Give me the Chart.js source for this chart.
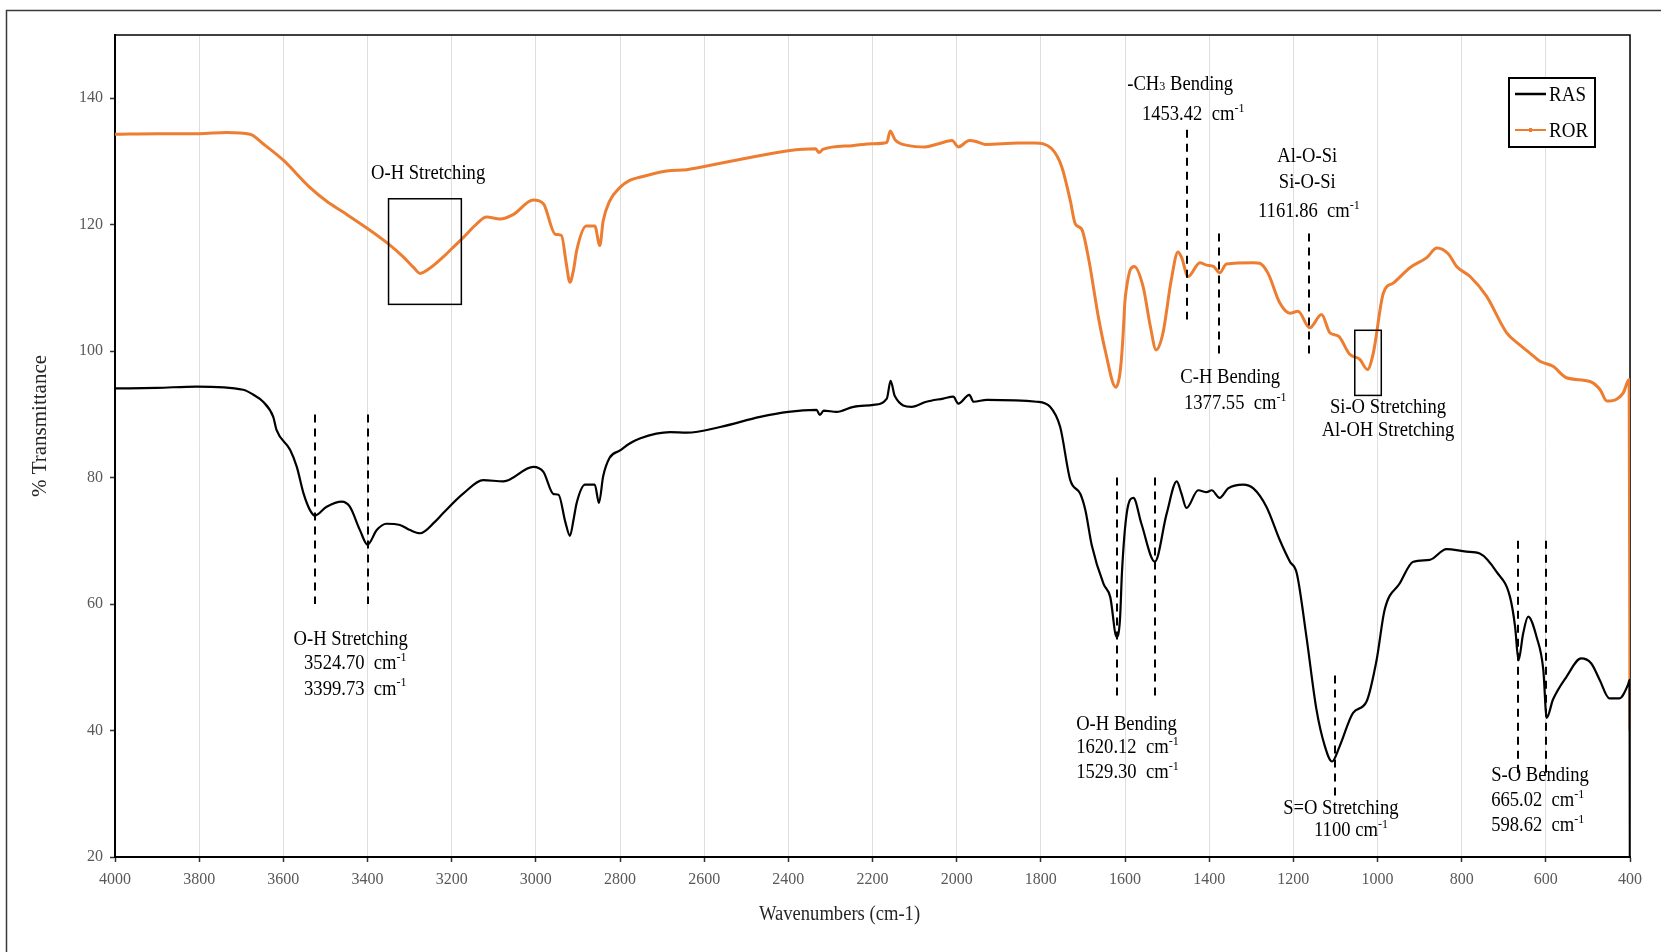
<!DOCTYPE html>
<html>
<head>
<meta charset="utf-8">
<script src="https://cdn.jsdelivr.net/npm/chart.js@4.4.0/dist/chart.umd.min.js"></script>
<style>
  html, body { margin: 0; padding: 0; background: #fff; overflow: hidden; }
  #wrap { width: 1661px; height: 952px; position: relative; }
</style>
</head>
<body>
<div id="wrap"><canvas id="ftir"></canvas></div>
<script>
// FTIR spectra: wavenumber (cm-1) and % transmittance
const rasWave = [4000, 3900, 3806, 3695, 3671, 3648, 3624, 3616, 3584, 3568, 3552, 3537, 3525, 3497, 3461, 3442, 3418, 3400, 3378, 3355, 3323, 3299, 3275, 3240, 3220, 3172, 3125, 3077, 3006, 2982, 2958, 2946, 2930, 2919, 2910, 2903, 2883, 2860, 2850, 2840, 2825, 2800, 2777, 2753, 2681, 2641, 2562, 2467, 2400, 2333, 2325, 2316, 2285, 2245, 2198, 2166, 2157, 2147, 2107, 2072, 2032, 2008, 1996, 1970, 1960, 1928, 1810, 1778, 1754, 1730, 1706, 1694, 1679, 1651, 1635, 1620, 1612, 1607, 1596, 1580, 1561, 1529, 1501, 1477, 1466, 1454, 1426, 1406, 1394, 1375, 1355, 1319, 1295, 1264, 1232, 1208, 1192, 1169, 1145, 1125, 1108, 1090, 1058, 1026, 1002, 983, 947, 915, 876, 836, 789, 757, 717, 685, 673, 665, 654, 642, 622, 606, 598, 583, 551, 516, 492, 472, 449, 425, 405, 401, 400];
const rasT = [94.1, 94.2, 94.4, 93.9, 93.1, 92.0, 89.6, 87.5, 84.4, 81.7, 77.5, 74.9, 74.0, 75.4, 76.2, 75.4, 71.7, 69.4, 71.7, 72.7, 72.5, 71.7, 71.2, 73.0, 74.4, 77.5, 79.6, 79.4, 81.7, 80.9, 77.4, 77.3, 73.0, 70.8, 73.5, 76.0, 78.9, 78.9, 76.0, 80.2, 83.1, 84.3, 85.4, 86.2, 87.2, 87.1, 88.0, 89.6, 90.4, 90.7, 89.9, 90.6, 90.4, 91.2, 91.5, 92.5, 95.3, 92.9, 91.2, 92.0, 92.5, 92.8, 91.7, 93.1, 92.0, 92.3, 92.0, 91.2, 88.0, 79.6, 77.4, 74.8, 69.3, 63.2, 61.1, 54.8, 57.5, 65.3, 74.3, 76.8, 72.7, 66.7, 74.3, 79.4, 77.5, 75.2, 78.0, 77.7, 78.0, 76.8, 78.3, 78.9, 78.3, 75.4, 70.1, 66.7, 64.9, 54.9, 43.3, 37.5, 35.1, 37.5, 42.8, 44.6, 51.2, 59.1, 63.3, 66.7, 67.0, 68.7, 68.3, 68.0, 65.1, 61.1, 56.4, 51.1, 55.3, 58.0, 54.8, 49.6, 42.0, 44.9, 48.5, 51.4, 50.6, 48.0, 45.1, 45.1, 47.2, 48.0, 0];

const rorWave = [4000, 3900, 3800, 3735, 3679, 3648, 3600, 3537, 3497, 3458, 3400, 3351, 3315, 3290, 3275, 3252, 3220, 3200, 3172, 3141, 3117, 3085, 3054, 3006, 2982, 2954, 2939, 2928, 2919, 2910, 2903, 2880, 2860, 2848, 2840, 2825, 2800, 2777, 2753, 2689, 2641, 2600, 2485, 2400, 2335, 2327, 2318, 2248, 2200, 2166, 2158, 2146, 2114, 2075, 2043, 2011, 1996, 1970, 1956, 1932, 1853, 1814, 1774, 1750, 1730, 1718, 1703, 1687, 1663, 1647, 1622, 1612, 1606, 1600, 1596, 1588, 1578, 1557, 1540, 1526, 1510, 1490, 1474, 1466, 1450, 1422, 1406, 1390, 1375, 1359, 1295, 1280, 1260, 1232, 1208, 1189, 1161, 1133, 1113, 1093, 1066, 1042, 1024, 1010, 986, 962, 923, 883, 859, 832, 812, 780, 741, 693, 662, 638, 614, 583, 551, 495, 471, 455, 432, 416, 402, 400];
const rorT = [134.3, 134.4, 134.4, 134.6, 134.3, 132.8, 130.2, 125.9, 123.7, 122.0, 119.4, 117.0, 114.9, 113.2, 112.3, 113.1, 114.9, 116.2, 118.0, 120.1, 121.2, 120.9, 121.6, 123.9, 123.3, 118.5, 118.3, 114.0, 110.9, 113.0, 115.9, 119.8, 119.8, 116.7, 120.6, 123.7, 125.9, 127.0, 127.5, 128.5, 128.7, 129.2, 130.7, 131.7, 132.0, 131.4, 131.9, 132.5, 132.8, 133.0, 134.8, 133.4, 132.5, 132.3, 132.8, 133.3, 132.3, 133.3, 133.2, 132.7, 132.9, 132.9, 132.0, 129.1, 123.8, 120.1, 119.3, 114.8, 105.3, 100.1, 94.3, 96.5, 101.0, 108.0, 110.2, 112.8, 113.4, 110.2, 104.0, 100.2, 102.8, 111.3, 115.7, 114.9, 111.8, 114.0, 113.6, 113.4, 112.4, 113.8, 114.0, 113.9, 112.3, 107.6, 106.0, 106.3, 103.7, 105.8, 102.9, 102.4, 99.5, 98.7, 97.1, 99.7, 109.2, 110.8, 113.2, 114.8, 116.3, 115.4, 113.4, 111.8, 108.7, 102.9, 101.0, 99.7, 98.4, 97.6, 95.8, 95.2, 93.9, 92.1, 92.4, 93.4, 95.5, 40];

const seriesNames = ['RAS', 'ROR'];
const seriesColors = ['#000000', '#ED7D31'];

// assigned bands: wavenumber, top and bottom of the dashed marker (% T)
const peakLines = [
  [3524.70, 90, 60], [3399.73, 90, 60],
  [1620.12, 80, 44.6], [1529.30, 80, 44.6],
  [1100, 48.7, 29],
  [665.02, 70, 33], [598.62, 70, 33],
  [1453.42, 135, 105], [1377.55, 118.6, 99.6], [1161.86, 118.6, 99.6]
];

// framed regions: wavenumber from / to, % T from / to
const peakBoxes = [
  [3350, 3177, 124.1, 107.4],
  [1054, 991, 103.3, 93.0]
];

// band labels ("^" = superscript, "_" = small digit)
const peakLabels = [
  { x: 3256, y: [128.3], align: 'center', lines: ['O-H Stretching'] },
  { x: 3440, y: [54.6, 50.7, 46.7], align: 'center', lines: ['O-H Stretching', '  3524.70  cm^-1', '  3399.73  cm^-1'] },
  { x: 1716, y: [41.2, 37.5, 33.5], align: 'left', lines: ['O-H Bending', '1620.12  cm^-1', '1529.30  cm^-1'] },
  { x: 1087, y: [27.8], align: 'center', lines: ['S=O Stretching'] },
  { x: 1063, y: [24.3], align: 'center', lines: ['1100 cm^-1'] },
  { x: 730, y: [33.0, 29.1, 25.1], align: 'left', lines: ['S-O Bending', '665.02  cm^-1', '598.62  cm^-1'] },
  { x: 1350, y: [96.0], align: 'center', lines: ['C-H Bending'] },
  { x: 1338, y: [91.9], align: 'center', lines: ['1377.55  cm^-1'] },
  { x: 1167, y: [130.9, 126.9], align: 'center', lines: ['Al-O-Si', 'Si-O-Si'] },
  { x: 1163, y: [122.2], align: 'center', lines: ['1161.86  cm^-1'] },
  { x: 1469, y: [142.4], align: 'center', lines: ['-CH_3 Bending'] },
  { x: 1438, y: [137.6], align: 'center', lines: ['1453.42  cm^-1'] },
  { x: 975, y: [91.3, 87.6], align: 'center', lines: ['Si-O Stretching', 'Al-OH Stretching'] }
];

const serif = '"Liberation Serif", "Times New Roman", serif';

function toPoints(xs, ys) {
  return xs.map(function (x, i) { return { x: x, y: ys[i] }; });
}

// text with superscript / small parts, squeezed a little horizontally
function richText(ctx, str, x, y, size, align, squeeze) {
  let parts = [];
  str.split(/(\^-?\d+|_\d)/).forEach(function (p) {
    if (!p) return;
    if (p[0] === '^') parts.push({ t: p.slice(1), k: 'sup' });
    else if (p[0] === '_') parts.push({ t: p.slice(1), k: 'sub' });
    else parts.push({ t: p, k: '' });
  });
  let small = Math.round(size * 0.65);
  let w = 0;
  parts.forEach(function (p) {
    ctx.font = (p.k ? small : size) + 'px ' + serif;
    p.w = ctx.measureText(p.t).width;
    w += p.w;
  });
  ctx.save();
  ctx.translate(x, y);
  ctx.scale(squeeze, 1);
  let cx = align === 'center' ? -w / 2 : (align === 'right' ? -w : 0);
  ctx.textAlign = 'left';
  ctx.textBaseline = 'alphabetic';
  let base = size * 0.33;
  parts.forEach(function (p) {
    ctx.font = (p.k ? small : size) + 'px ' + serif;
    let dy = p.k === 'sup' ? base - size * 0.42 : base;
    ctx.fillText(p.t, cx, dy);
    cx += p.w;
  });
  ctx.restore();
}

const annotate = {
  id: 'annotate',
  beforeDatasetsDraw(chart) {
    const ctx = chart.ctx, a = chart.chartArea;
    ctx.save();
    ctx.strokeStyle = '#000';
    ctx.lineWidth = 1.5;
    ctx.strokeRect(a.left, a.top, a.right - a.left, a.bottom - a.top);
    ctx.restore();
  },
  afterDatasetsDraw(chart) {
    const ctx = chart.ctx, a = chart.chartArea;
    const xs = chart.scales.x, ys = chart.scales.y;
    ctx.save();

    // dashed band markers
    ctx.strokeStyle = '#000';
    ctx.lineWidth = 2;
    ctx.setLineDash([8, 6]);
    peakLines.forEach(function (p) {
      let px = Math.round(xs.getPixelForValue(p[0]));
      ctx.beginPath();
      ctx.moveTo(px, ys.getPixelForValue(p[1]));
      ctx.lineTo(px, ys.getPixelForValue(p[2]));
      ctx.stroke();
    });
    ctx.setLineDash([]);

    // boxes
    ctx.lineWidth = 1.5;
    peakBoxes.forEach(function (b) {
      let x1 = xs.getPixelForValue(b[0]), x2 = xs.getPixelForValue(b[1]);
      let y1 = ys.getPixelForValue(b[2]), y2 = ys.getPixelForValue(b[3]);
      ctx.strokeRect(x1, y1, x2 - x1, y2 - y1);
    });

    // labels
    ctx.fillStyle = '#000';
    peakLabels.forEach(function (l) {
      let px = xs.getPixelForValue(l.x);
      l.lines.forEach(function (t, i) {
        richText(ctx, t, px, ys.getPixelForValue(l.y[i]), 20, l.align, 0.93);
      });
    });

    // legend box
    let bx = a.right - 121, by = a.top + 43;
    ctx.fillStyle = '#fff';
    ctx.fillRect(bx, by, 86, 69);
    ctx.strokeStyle = '#000';
    ctx.lineWidth = 2;
    ctx.strokeRect(bx, by, 86, 69);
    seriesNames.forEach(function (name, i) {
      let ly = by + 16 + i * 36;
      ctx.strokeStyle = seriesColors[i];
      ctx.lineWidth = i === 0 ? 2.5 : 2;
      ctx.beginPath();
      ctx.moveTo(bx + 6, ly);
      ctx.lineTo(bx + 37, ly);
      ctx.stroke();
      if (i === 1) {
        ctx.fillStyle = seriesColors[i];
        ctx.fillRect(bx + 20, ly - 2, 3, 4);
      }
      ctx.fillStyle = '#000';
      richText(ctx, name, bx + 40, ly, 20, 'left', 0.95);
    });

    // axis titles
    ctx.fillStyle = '#262626';
    ctx.save();
    ctx.translate(a.left - 76, (a.top + a.bottom) / 2 - 20);
    ctx.rotate(-Math.PI / 2);
    richText(ctx, '% Transmittance', 0, 0, 21, 'center', 1);
    ctx.restore();
    richText(ctx, 'Wavenumbers (cm-1)', (a.left + a.right) / 2 - 33, a.bottom + 56, 20, 'center', 0.93);

    ctx.restore();
  },
  afterDraw(chart) {
    // outer frame of the figure
    const ctx = chart.ctx;
    ctx.save();
    ctx.strokeStyle = '#3a3a3a';
    ctx.lineWidth = 1.5;
    ctx.beginPath();
    ctx.moveTo(6.5, chart.height + 2);
    ctx.lineTo(6.5, 10.5);
    ctx.lineTo(chart.width + 2, 10.5);
    ctx.stroke();
    ctx.restore();
  }
};

new Chart(document.getElementById('ftir'), {
  type: 'line',
  data: {
    datasets: [
      { label: seriesNames[0], data: toPoints(rasWave, rasT), borderColor: seriesColors[0], borderWidth: 2.2 },
      { label: seriesNames[1], data: toPoints(rorWave, rorT), borderColor: seriesColors[1], borderWidth: 3 }
    ]
  },
  options: {
    responsive: true,
    maintainAspectRatio: false,
    animation: false,
    parsing: false,
    elements: {
      point: { radius: 0 },
      line: { cubicInterpolationMode: 'monotone', fill: false }
    },
    layout: { padding: { left: 0, top: 35, right: 31, bottom: 0 } },
    plugins: {
      legend: { display: false },
      tooltip: { enabled: false }
    },
    scales: {
      x: {
        type: 'linear',
        reverse: true,
        min: 400,
        max: 4000,
        afterFit: function (scale) { scale.height = 95; },
        ticks: {
          stepSize: 200,
          autoSkip: false,
          maxRotation: 0,
          padding: 8,
          color: '#595959',
          font: { family: serif, size: 16 },
          callback: function (v) { return String(v); }
        },
        grid: { color: '#dedede', lineWidth: 1, tickLength: 5, tickColor: '#333', tickWidth: 1.5 },
        border: { display: true, color: '#000', width: 2 }
      },
      y: {
        min: 20,
        max: 150,
        afterFit: function (scale) { scale.width = 115; },
        afterBuildTicks: function (scale) {
          scale.ticks = scale.ticks.filter(function (t) { return t.value % 20 === 0; });
        },
        ticks: {
          stepSize: 20,
          padding: 7,
          color: '#595959',
          font: { family: serif, size: 16 }
        },
        grid: { drawOnChartArea: false, tickLength: 5, tickColor: '#333', tickWidth: 1.5 },
        border: { display: true, color: '#000', width: 2 }
      }
    }
  },
  plugins: [annotate]
});
</script>
</body>
</html>
